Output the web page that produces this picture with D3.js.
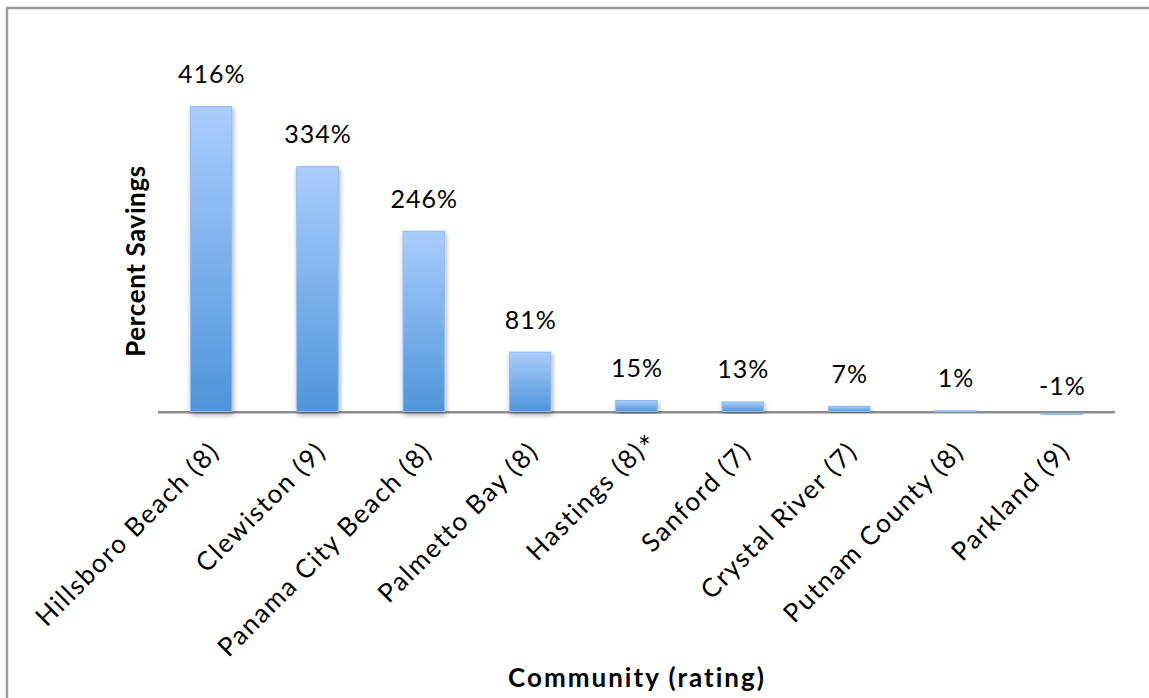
<!DOCTYPE html>
<html>
<head>
<meta charset="utf-8">
<script src="https://cdn.jsdelivr.net/npm/d3@7"></script>
<style>
  html, body { margin: 0; padding: 0; background: #fff; }
  svg { display: block; }
  text { font-family: Lato, "Open Sans", sans-serif; fill: #000; }
</style>
</head>
<body>
<svg id="chart" width="1149" height="698"></svg>
<script>
// Community savings data
const communities = [
  "Hillsboro Beach (8)", "Clewiston (9)", "Panama City Beach (8)", "Palmetto Bay (8)",
  "Hastings (8)", "Sanford (7)", "Crystal River (7)", "Putnam County (8)", "Parkland (9)"
];
const savings = [416, 334, 246, 81, 15, 13, 7, 1, -1];
const footnoted = ["Hastings (8)"];
const yTitle = "Percent Savings";
const xTitle = "Community (rating)";

const W = 1149, H = 698;
const svg = d3.select("#chart");

// Plot area
const left = 158, right = 1115, zeroY = 411;
const pxPerUnit = 0.733;

const x = d3.scaleBand().domain(communities).range([left, right]).paddingInner(0.6).paddingOuter(0.3);
const y = d3.scaleLinear().domain([0, 450]).range([zeroY, zeroY - 450 * pxPerUnit]);

const defs = svg.append("defs");
const grad = defs.append("linearGradient")
  .attr("id", "barFill").attr("x1", 0).attr("y1", 0).attr("x2", 0).attr("y2", 1);
grad.append("stop").attr("offset", "0%").attr("stop-color", "#aacdfd");
grad.append("stop").attr("offset", "100%").attr("stop-color", "#4f95d9");

const shadow = defs.append("filter").attr("id", "barShadow")
  .attr("x", "-30%").attr("y", "-10%").attr("width", "160%").attr("height", "130%");
shadow.append("feDropShadow")
  .attr("dx", 1).attr("dy", 3).attr("stdDeviation", 2.5)
  .attr("flood-color", "#000").attr("flood-opacity", 0.35);

// Outer frame
svg.append("rect")
  .attr("x", 7).attr("y", 8).attr("width", W + 20).attr("height", H + 20)
  .attr("fill", "none").attr("stroke", "#9a9a9a").attr("stroke-width", 2.5);

const data = communities.map((c, i) => ({ c, v: savings[i] }));

// Horizontal axis line at zero
svg.append("line")
  .attr("x1", left).attr("x2", right)
  .attr("y1", y(0) + 1.2).attr("y2", y(0) + 1.2)
  .attr("stroke", "#8e8e8e").attr("stroke-width", 2.5);

// Bars
svg.append("g").selectAll("rect").data(data).join("rect")
  .attr("x", d => x(d.c) + 0.5)
  .attr("width", x.bandwidth() - 1)
  .attr("y", d => d.v >= 0 ? y(d.v) + 0.5 : y(0) + 2.9)
  .attr("height", d => Math.abs(y(d.v) - y(0)))
  .attr("fill", "url(#barFill)")
  .attr("stroke", "#8fbcf0")
  .attr("stroke-width", 1)
  .attr("filter", "url(#barShadow)");

// Value labels
svg.append("g").selectAll("text").data(data).join("text")
  .attr("x", d => x(d.c) + x.bandwidth() / 2 + 0.5)
  .attr("y", d => d.v >= 0 ? y(d.v) - 23 : y(0) - 16)
  .attr("text-anchor", "middle")
  .attr("font-size", 25)
  .attr("letter-spacing", 1)
  .text(d => d.v + "%");

// Category tick labels, rotated
const xAxis = svg.append("g");
xAxis.selectAll("text").data(communities).join("text")
  .attr("transform", c => `translate(${x(c) + x.bandwidth() / 2 + 10},${zeroY + 42}) rotate(-45)`)
  .attr("text-anchor", "end")
  .attr("font-size", 26)
  .attr("letter-spacing", 1.7)
  .text(c => c);

// Footnote marker
xAxis.selectAll("text.note").data(footnoted).join("text")
  .attr("class", "note")
  .attr("x", c => x(c) + x.bandwidth() / 2 + 8)
  .attr("y", zeroY + 47)
  .attr("text-anchor", "middle")
  .attr("font-size", 30)
  .text("*");

// Axis titles
svg.append("text")
  .attr("transform", `translate(145,261) rotate(-90)`)
  .attr("text-anchor", "middle")
  .attr("font-size", 26).attr("font-weight", "bold")
  .attr("letter-spacing", 0.6)
  .text(yTitle);

svg.append("text")
  .attr("x", 637).attr("y", 687)
  .attr("text-anchor", "middle")
  .attr("font-size", 26).attr("font-weight", "bold")
  .attr("letter-spacing", 2)
  .text(xTitle);
</script>
</body>
</html>
